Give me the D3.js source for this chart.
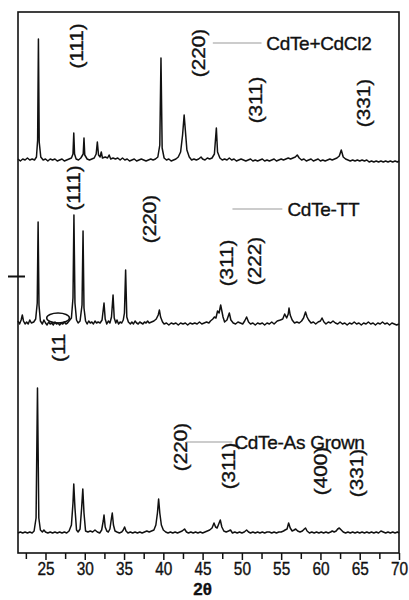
<!DOCTYPE html>
<html>
<head>
<meta charset="utf-8">
<script src="https://cdn.jsdelivr.net/npm/d3@7"></script>
<style>
    body { margin: 0; background: #fff; }
    svg { display: block; }
    text { font-family: Arial, "Liberation Sans", sans-serif; fill: #111; stroke: #111; stroke-width: 0.35; }
</style>
</head>
<body>
<svg id="chart" width="409" height="600"></svg>
<script>
// XRD patterns, [2theta, intensity above own baseline] in a.u.
const asGrown = [
    [21.5,0],[21.8,1],[22.1,0],[22.4,1],[22.7,0],[23.0,1],[23.3,0],[23.55,2],[23.8,15],[23.98,145],[24.15,15],[24.35,3],[24.6,1],[24.8,3],[25.0,1],[25.3,0],[25.6,1],[25.9,0],[26.2,1],[26.5,0],[26.8,1],[27.1,0],[27.4,1],[27.7,0],
    [28.0,2],[28.3,8],[28.5,30],[28.6,49],[28.75,25],[28.95,3],[29.15,1],[29.4,4],[29.6,25],[29.75,44],[29.9,20],[30.1,2],[30.4,1],[30.7,2],[31.0,1],[31.3,3],[31.6,1],[31.9,0],
    [32.15,3],[32.35,12],[32.45,18],[32.6,6],[32.8,2],[33.0,1],[33.2,4],[33.4,15],[33.5,20],[33.65,8],[33.85,2],[34.1,1],[34.4,0],[34.7,1],[34.9,3],[35.07,6],[35.25,2],[35.5,0],
    [35.8,1],[36.1,0],[36.4,1],[36.7,0],[37.0,1],[37.3,0],[37.6,1],[37.9,2],[38.2,1],[38.5,2],[38.8,3],[39.05,8],[39.25,20],[39.4,34],[39.55,20],[39.75,8],[40.0,3],[40.3,1],
    [40.6,0],[40.9,1],[41.2,0],[41.5,1],[41.8,0],[42.1,1],[42.4,2],[42.7,4],[42.95,1],[43.2,0],[43.5,1],[43.8,0],[44.1,1],[44.4,0],[44.7,1],[45.0,0],[45.3,1],[45.6,2],[45.9,3],
    [46.2,5],[46.45,10],[46.65,6],[46.85,5],[47.05,9],[47.25,13],[47.45,6],[47.7,2],[48.0,1],[48.3,2],[48.55,3],[48.8,0],[49.1,1],[49.4,0],[49.7,1],[50.0,0],[50.3,1],[50.6,3],
    [50.85,1],[51.1,0],[51.4,1],[51.7,0],[52.0,1],[52.3,0],[52.6,1],[52.9,0],[53.2,1],[53.5,1],[53.8,0],[54.1,1],[54.4,0],[54.7,1],[55.0,1],[55.3,2],[55.5,3],[55.75,4],
    [55.95,10],[56.15,5],[56.4,2],[56.65,3],[56.85,4],[57.1,2],[57.4,1],[57.7,2],[57.95,4],[58.1,5],[58.3,2],[58.6,0],[58.9,1],[59.2,0],[59.5,1],[59.8,0],[60.1,1],[60.4,0],
    [60.7,1],[61.0,0],[61.3,1],[61.5,2],[61.75,1],[62.0,2],[62.2,4],[62.4,5],[62.65,3],[62.9,1],[63.2,0],[63.5,1],[63.8,0],[64.1,1],[64.4,0],[64.7,1],[65.0,0],[65.3,1],
    [65.6,0],[65.9,1],[66.2,0],[66.5,1],[66.8,0],[67.1,1],[67.4,0],[67.7,2],[68.0,1],[68.3,0],[68.6,1],[68.9,0],[69.2,1],[69.5,0],[69.8,1],[70.0,0]
]

const cdteTT = [
    [21.5,2],[21.7,-1],[21.9,3],[22.05,8],[22.2,2],[22.4,-1],[22.6,1],[22.8,-1],[23.0,3],[23.2,0],[23.5,1],[23.75,4],[23.95,20],[24.06,101],[24.17,18],[24.35,2],[24.6,-1],
    [24.8,3],[25.0,0],[25.2,-2],[25.4,1],[25.6,-1],[25.8,0],[26.0,-2],[26.2,1],[26.4,-1],[26.6,0],[26.8,-2],[27.0,0],[27.2,-1],[27.4,1],[27.6,-1],[27.8,0],
    [28.0,2],[28.3,5],[28.5,25],[28.62,108],[28.75,20],[28.95,3],[29.15,0],[29.4,2],[29.65,18],[29.78,92],[29.9,15],[30.1,2],[30.3,-1],[30.5,2],[30.7,0],[30.9,1],[31.1,-1],
    [31.3,2],[31.5,0],[31.7,1],[31.95,0],[32.2,3],[32.45,20],[32.6,4],[32.8,-1],[33.0,2],[33.2,0],[33.4,6],[33.6,28],[33.75,5],[33.95,0],[34.1,3],[34.3,-1],[34.5,1],[34.7,0],
    [34.9,3],[35.05,10],[35.2,53],[35.35,6],[35.55,1],[35.8,-1],[36.0,1],[36.2,-1],[36.4,2],[36.6,0],[36.8,-1],[37.0,1],[37.2,0],[37.4,-1],[37.6,1],[37.8,0],[38.0,2],
    [38.2,0],[38.5,1],[38.8,2],[39.1,4],[39.35,8],[39.5,13],[39.65,6],[39.9,1],[40.1,-1],[40.4,0],[40.7,-2],[41.0,0],[41.3,-1],[41.6,0],[41.9,-2],[42.2,0],[42.5,-1],
    [42.8,0],[43.1,-2],[43.4,0],[43.7,-1],[44.0,0],[44.3,-1],[44.6,1],[44.9,-1],[45.2,0],[45.5,1],[45.8,0],[46.0,2],[46.3,4],[46.5,6],[46.7,5],[46.9,12],[47.1,10],
    [47.3,18],[47.45,12],[47.6,6],[47.8,1],[48.1,3],[48.4,10],[48.6,3],[48.9,0],[49.2,-1],[49.5,1],[49.8,0],[50.1,-1],[50.35,2],[50.6,6],[50.85,1],[51.1,-1],[51.4,0],
    [51.7,-2],[52.0,0],[52.3,-1],[52.6,0],[52.9,-2],[53.2,0],[53.5,-1],[53.8,1],[54.1,-1],[54.5,2],[54.9,3],[55.2,4],[55.45,9],[55.7,5],[55.9,9],[56.0,15],[56.15,8],
    [56.4,3],[56.7,0],[57.0,1],[57.3,0],[57.6,2],[57.85,5],[58.1,11],[58.3,6],[58.5,3],[58.8,0],[59.1,1],[59.4,-1],[59.7,1],[60.0,2],[60.2,5],[60.45,1],[60.7,-1],
    [61.0,1],[61.3,0],[61.6,2],[61.9,0],[62.2,-1],[62.5,1],[62.8,-1],[63.1,0],[63.4,-2],[63.7,0],[64.0,-1],[64.3,1],[64.6,-1],[64.9,0],[65.2,-2],[65.5,0],[65.8,-1],
    [66.1,1],[66.4,-1],[66.7,0],[67.0,-2],[67.3,0],[67.6,-1],[67.9,1],[68.2,-1],[68.5,0],[68.8,-2],[69.1,0],[69.4,-1],[69.7,-2],[70.0,-1]
]

const cdteCdCl2 = [
    [21.5,1],[21.8,-1],[22.1,1],[22.4,0],[22.7,2],[23.0,0],[23.3,1],[23.6,0],[23.85,3],[24.0,20],[24.1,121],[24.2,18],[24.4,3],[24.7,0],[25.0,1],[25.3,-1],[25.6,1],
    [25.9,0],[26.2,1],[26.5,-1],[26.8,0],[27.1,1],[27.4,-1],[27.7,0],[28.0,1],[28.3,2],[28.5,6],[28.6,27],[28.7,6],[28.9,1],[29.2,0],[29.5,2],[29.8,6],[29.9,22],[30.0,5],
    [30.3,1],[30.6,0],[30.9,1],[31.2,2],[31.45,6],[31.6,18],[31.75,5],[31.95,3],[32.1,8],[32.25,2],[32.6,3],[32.9,2],[33.1,5],[33.3,1],[33.6,2],[33.9,1],[34.2,2],[34.5,0],
    [34.8,2],[35.1,0],[35.4,1],[35.7,-1],[36.0,0],[36.3,1],[36.6,-1],[36.9,0],[37.2,1],[37.5,0],[37.8,-1],[38.1,0],[38.4,1],[38.7,0],[39.0,1],[39.3,3],[39.55,15],
    [39.7,102],[39.85,12],[40.1,2],[40.4,0],[40.7,1],[41.0,-1],[41.3,0],[41.6,1],[41.9,3],[42.2,8],[42.45,25],[42.65,45],[42.8,30],[43.0,10],[43.3,3],[43.6,0],[43.9,1],
    [44.2,0],[44.5,1],[44.8,3],[45.0,1],[45.3,0],[45.6,2],[45.9,1],[46.2,2],[46.5,6],[46.75,32],[46.9,8],[47.2,2],[47.5,0],[47.8,1],[48.1,0],[48.4,2],[48.7,0],[49.0,1],
    [49.3,-1],[49.6,0],[49.9,1],[50.2,0],[50.5,-1],[50.8,0],[51.1,1],[51.4,-1],[51.7,0],[52.0,-1],[52.3,0],[52.6,1],[52.9,-1],[53.2,0],[53.5,-1],[53.8,0],[54.1,1],
    [54.4,-1],[54.7,0],[55.0,1],[55.3,0],[55.6,1],[55.9,2],[56.2,1],[56.5,2],[56.8,3],[57.05,5],[57.3,2],[57.6,0],[57.9,1],[58.2,-1],[58.5,0],[58.8,1],[59.1,-1],[59.4,0],
    [59.7,1],[60.0,-1],[60.3,0],[60.6,-1],[60.9,0],[61.2,1],[61.5,0],[61.8,1],[62.1,2],[62.4,4],[62.65,10],[62.9,3],[63.2,1],[63.5,0],[63.8,-1],[64.1,0],[64.4,-1],
    [64.7,0],[65.0,-1],[65.3,0],[65.6,-1],[65.9,0],[66.2,-2],[66.5,-1],[66.8,-2],[67.1,-1],[67.4,-2],[67.7,-1],[68.0,-2],[68.3,-1],[68.6,-2],[68.9,-1],[69.2,-2],[69.5,-1],[69.8,-2],[70.0,-1]
]

// vertical stacking offsets (a.u.)
const asGrownOffset = 20
const ttOffset = 230
const cdcl2Offset = 393

const xTicks = [25, 30, 35, 40, 45, 50, 55, 60, 65, 70]
const xMinorTicks = [22.5, 27.5, 32.5, 37.5, 42.5, 47.5, 52.5, 57.5, 62.5, 67.5]
const yTicks = [277]

// hkl labels: [text, 2theta, height]
const cdcl2Labels = [['(111)', 28.98, 507], ['(220)', 44.48, 500], ['(311)', 51.7, 453], ['(331)', 65.5, 450]]
const ttLabels = [['(111)', 28.6, 365], ['(220)', 38.25, 334], ['(311)', 48.1, 290], ['(222)', 51.55, 292]]
const asGrownLabels = [['(220)', 42.2, 106], ['(311)', 48.25, 87], ['(400)', 59.98, 82], ['(331)', 64.55, 80]]

// legend entries: [line start, line end, text start, line height]
const legendNames = ['CdTe+CdCl2', 'CdTe-TT', 'CdTe-As Grown']
const legendPos = [[46.3, 52.5, 53.1, 510], [48.8, 55.15, 55.8, 344], [42.9, 48.8, 49.05, 111]]

const W = 409, H = 600
const margin = { top: 12, right: 10, bottom: 47, left: 18 }

const svg = d3.select('#chart')

const x = d3.scaleLinear()
    .domain([21.5, 70])
    .range([margin.left, W - margin.right])

const y = d3.scaleLinear()
    .domain([0, 541])
    .range([H - margin.bottom, margin.top])

const series = [
    { data: asGrown, offset: asGrownOffset },
    { data: cdteTT, offset: ttOffset },
    { data: cdteCdCl2, offset: cdcl2Offset }
]

series.forEach(s => {
    const line = d3.line()
        .x(d => x(d[0]))
        .y(d => y(d[1] + s.offset))
    svg.append('path')
        .datum(s.data)
        .attr('d', line)
        .attr('fill', 'none')
        .attr('stroke', '#111')
        .attr('stroke-width', 1.5)
        .attr('stroke-linejoin', 'round')
})

// little ellipse drawn round the weak (111) feature of CdTe-TT
svg.append('ellipse')
    .attr('cx', x(26.6))
    .attr('cy', y(ttOffset + 5))
    .attr('rx', x(28.05) - x(26.6))
    .attr('ry', y(0) - y(5))
    .attr('fill', 'none')
    .attr('stroke', '#111')
    .attr('stroke-width', 1.5)

// frame
svg.append('rect')
    .attr('x', x(21.5))
    .attr('y', y(541))
    .attr('width', x(70) - x(21.5))
    .attr('height', y(0) - y(541))
    .attr('fill', 'none')
    .attr('stroke', '#111')
    .attr('stroke-width', 1.6)

// x axis
const xAxis = svg.append('g')
    .attr('transform', `translate(0,${y(0)})`)
    .call(d3.axisBottom(x).tickValues(xTicks).tickSize(7).tickPadding(3).tickFormat(d3.format('d')))
xAxis.select('.domain').remove()
xAxis.selectAll('line').attr('stroke', '#111').attr('stroke-width', 1.5)
xAxis.selectAll('text')
    .attr('font-size', 17.5)
    .attr('font-family', 'Arial, "Liberation Sans", sans-serif')
    .attr('fill', '#111')
    .attr('transform', 'scale(0.88,1)')

const xMinor = svg.append('g')
    .attr('transform', `translate(0,${y(0)})`)
    .call(d3.axisBottom(x).tickValues(xMinorTicks).tickSize(6).tickFormat(''))
xMinor.select('.domain').remove()
xMinor.selectAll('line').attr('stroke', '#111').attr('stroke-width', 1.5)

svg.append('text')
    .attr('x', (margin.left + W - margin.right) / 2 - 6)
    .attr('y', 595)
    .attr('text-anchor', 'middle')
    .attr('font-size', 17)
    .attr('font-weight', 'bold')
    .text('2θ')

// y axis: a single crossing tick
const yAxis = svg.append('g')
    .attr('transform', `translate(${x(21.5)},0)`)
    .call(d3.axisLeft(y).tickValues(yTicks).tickSize(10).tickFormat(''))
yAxis.select('.domain').remove()
yAxis.selectAll('line').attr('x1', 7).attr('stroke', '#111').attr('stroke-width', 2)

// hkl labels
const allLabels = [cdcl2Labels, ttLabels, asGrownLabels]
allLabels.forEach(labels => {
    labels.forEach(([t, th, v]) => {
        svg.append('text')
            .attr('transform', `translate(${x(th)},${y(v)}) rotate(-90) scale(1.15,1)`)
            .attr('text-anchor', 'middle')
            .attr('dominant-baseline', 'central')
            .attr('font-size', 18)
            .text(t)
    })
})

// the cut-off label under the ellipse
svg.append('text')
    .attr('transform', `translate(${x(26.7)},${y(191)}) rotate(-90) scale(1.15,1)`)
    .attr('text-anchor', 'start')
    .attr('dominant-baseline', 'central')
    .attr('font-size', 18)
    .text('(11')

// legends
legendNames.forEach((name, i) => {
    const [a, b, t, v] = legendPos[i]
    svg.append('line')
        .attr('x1', x(a)).attr('x2', x(b))
        .attr('y1', y(v)).attr('y2', y(v))
        .attr('stroke', '#999')
        .attr('stroke-width', 1.2)
    svg.append('text')
        .attr('x', x(t))
        .attr('y', y(v))
        .attr('dominant-baseline', 'central')
        .attr('font-size', 19)
        .attr('letter-spacing', -0.3)
        .text(name)
})
</script>
</body>
</html>
